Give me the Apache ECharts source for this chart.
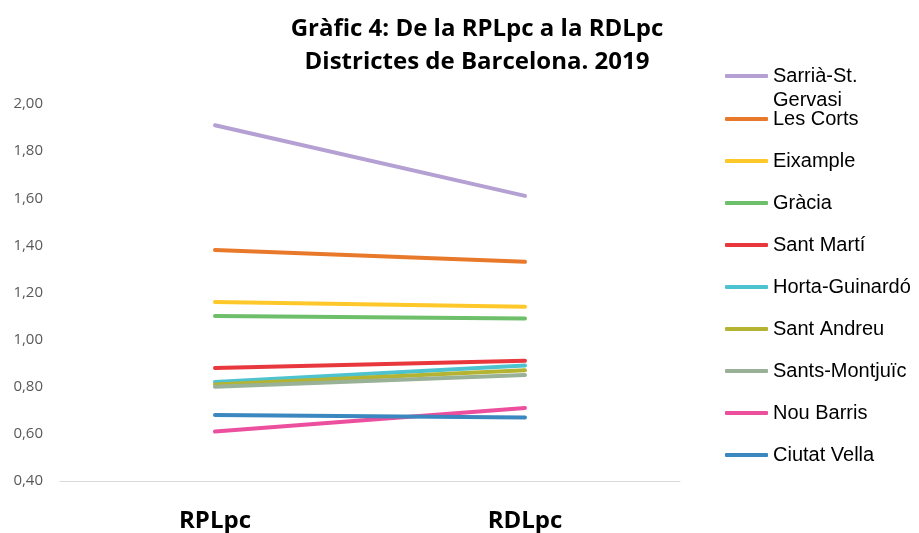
<!DOCTYPE html>
<html><head><meta charset="utf-8">
<script src="https://cdn.jsdelivr.net/npm/echarts@6/dist/echarts.min.js"></script>
<style>html,body{margin:0;padding:0;background:#fff}#c{width:919px;height:533px}</style>
</head><body><div id="c"></div>
<script>
const categories = ['RPLpc', 'RDLpc'];
const districts = ['Sarrià-St. Gervasi', 'Les Corts', 'Eixample', 'Gràcia', 'Sant Martí', 'Horta-Guinardó', 'Sant Andreu', 'Sants-Montjuïc', 'Nou Barris', 'Ciutat Vella'];
const rplpc = [1.91, 1.38, 1.16, 1.10, 0.88, 0.82, 0.81, 0.80, 0.61, 0.68];
const rdlpc = [1.61, 1.33, 1.14, 1.09, 0.91, 0.89, 0.87, 0.85, 0.71, 0.67];
const colors = ['#b4a0d2', '#e8792b', '#ffc82a', '#6dbf69', '#e8383d', '#4ec3d0', '#b4b432', '#99b197', '#ec4f9d', '#3b88c1'];
const yTicks = [0.4, 2.0, 0.2];

const chart = echarts.init(document.getElementById('c'));
const series = districts.map((d, i) => ({
  name: d, type: 'line', data: [rplpc[i], rdlpc[i]], symbol: 'none',
  lineStyle: { width: 4, color: colors[i], cap: 'round' }, itemStyle: { color: colors[i] }, z: 2
}));
const legendBase = {
  orient: 'vertical', left: 720, itemWidth: 43, itemHeight: 4, itemGap: 22,
  icon: 'roundRect',
  textStyle: { fontFamily: 'Liberation Sans', fontSize: 20, color: '#000', lineHeight: 20 }
};
chart.setOption({
  animation: false,
  title: {
    text: 'Gràfic 4: De la RPLpc a la RDLpc\nDistrictes de Barcelona. 2019',
    left: 472, top: 8, textAlign: 'center',
    textStyle: { fontFamily: 'Open Sans', fontWeight: 'bold', fontSize: 24, lineHeight: 33, color: '#000' }
  },
  legend: [
    Object.assign({}, legendBase, {
      top: 35, data: districts.slice(0, 1),
      formatter: n => '\n' + n.replace(' ', '\n'),
      textStyle: Object.assign({}, legendBase.textStyle, { lineHeight: 24 })
    }),
    Object.assign({}, legendBase, { top: 104, data: districts.slice(1) })
  ],
  grid: { left: 60, right: 239, top: 104, bottom: 52 },
  xAxis: {
    type: 'category', data: categories, boundaryGap: true,
    axisLine: { lineStyle: { color: '#d9d9d9', width: 1 } }, axisTick: { show: false },
    axisLabel: { margin: 28, fontFamily: 'Open Sans', fontWeight: 'bold', fontSize: 24, color: '#000' }
  },
  yAxis: {
    type: 'value', min: yTicks[0], max: yTicks[1], interval: yTicks[2],
    axisLine: { show: false }, axisTick: { show: false }, splitLine: { show: false },
    axisLabel: { margin: 17, fontFamily: 'Open Sans', fontSize: 15, color: '#595959',
      formatter: v => v.toFixed(2).replace('.', ',') }
  },
  series: series
});
</script></body></html>
